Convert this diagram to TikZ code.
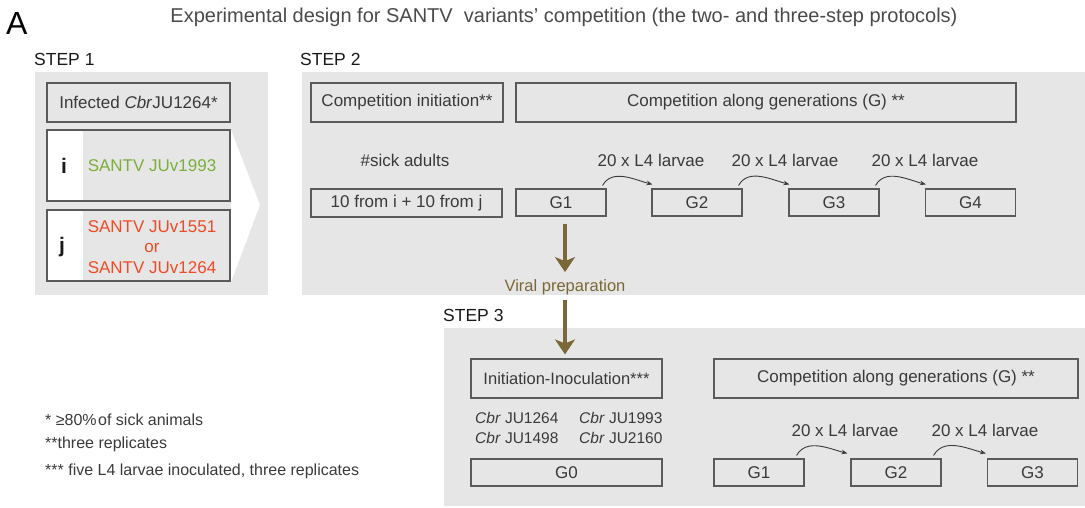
\documentclass[tikz,border=0pt]{standalone}
\usepackage{fontspec}
\setmainfont{Liberation Sans}
\usetikzlibrary{arrows.meta,calc}
\definecolor{panelgray}{HTML}{E6E6E6}
\definecolor{boxline}{HTML}{5A5A5A}
\definecolor{txt}{HTML}{3A3A3A}
\definecolor{titlec}{HTML}{4A4A4A}
\definecolor{vgreen}{HTML}{7AB03A}
\definecolor{vred}{HTML}{F04A24}
\definecolor{olivec}{HTML}{7A6837}
\newcommand{\setfs}[1]{\fontsize{#1pt}{#1pt}\selectfont}
\begin{document}
\begin{tikzpicture}[x=1pt,y=-1pt,
  panel/.style={fill=panelgray,draw=none},
  box/.style={draw=boxline,line width=1.1pt,inner sep=0pt,text=txt,font=\setfs{17}},
  gbox/.style={box,minimum width=90pt,minimum height=27pt},
  lbl/.style={inner sep=0pt,text=txt,font=\setfs{17}},
  steplbl/.style={inner sep=0pt,anchor=west,text=black!90,font=\setfs{17.5}},
  note/.style={inner sep=0pt,anchor=west,text=txt,font=\setfs{16}},
  cbr/.style={inner sep=0pt,anchor=west,text=txt,font=\setfs{15.5}},
  letter/.style={inner sep=0pt,text=black!90,font=\setfs{21}\bfseries},
  larr/.style={-{Stealth[length=6pt,width=4.5pt]},line width=0.9pt,draw=txt},
  olivearr/.style={-{Stealth[length=15pt,width=20pt,inset=4pt]},line width=3.5pt,draw=olivec,fill=olivec}]
\useasboundingbox (0,0) rectangle (1085,508);

% heading
\node[inner sep=0pt,anchor=base west,font=\setfs{32}] (A) at (6,35) {A};
\node[inner sep=0pt,anchor=base,text=titlec,font=\setfs{20}] (title) at (564,23)
  {Experimental design for SANTV\ \ variants' competition (the two- and three-step protocols)};

% panels
\fill[panel] (35,72) rectangle (268,295);
\fill[panel] (302,72) rectangle (1085,295);
\fill[panel] (444,328) rectangle (1085,506);

\node[steplbl] (s1) at (34,59) {STEP 1};
\node[steplbl] (s2) at (300,59) {STEP 2};
\node[steplbl] (s3) at (443,315) {STEP 3};

% STEP 1
\fill[white] (231,130) -- (260,205) -- (231,282) -- cycle;
\fill[white] (47,130) rectangle (83,201);
\fill[white] (47,210) rectangle (83,281);
\node[box,minimum width=183pt,minimum height=39pt] (inf) at (138.5,102.5) {Infected \textit{Cbr}JU1264*};
\node[box,minimum width=183pt,minimum height=71pt] (bi) at (138.5,165.5) {};
\node[box,minimum width=183pt,minimum height=71pt] (bj) at (138.5,245.5) {};
\node[letter] (li) at (64,166) {i};
\node[letter] (lj) at (62,247) {j};
\node[inner sep=0pt,text=vgreen,font=\setfs{17}] (vi) at (152,166) {SANTV JUv1993};
\node[inner sep=0pt,text=vred,align=center,font=\fontsize{17pt}{20.5pt}\selectfont] (vj) at (152,247)
  {SANTV JUv1551\\or\\SANTV JUv1264};

% STEP 2
\node[box,minimum width=192pt,minimum height=39pt] (ci) at (407,102.5) {Competition initiation**};
\node[box,minimum width=500pt,minimum height=39pt] (cg) at (766,102.5) {Competition along generations (G) **};
\node[lbl] (sick) at (405,160) {\#sick adults};
\node[box,minimum width=191pt,minimum height=28pt] (ten) at (406.5,203) {10 from i + 10 from j};
\node[gbox] (g1) at (561,202.5) {G1};
\node[gbox] (g2) at (697,202.5) {G2};
\node[gbox] (g3) at (834,202.5) {G3};
\node[gbox] (g4) at (970.5,202.5) {G4};
\node[lbl] (l1) at (651,160) {20 x L4 larvae};
\node[lbl] (l2) at (785,160) {20 x L4 larvae};
\node[lbl] (l3) at (925,160) {20 x L4 larvae};
\draw[larr] ([xshift=-4pt,yshift=3pt]g1.north east) to[out=60,in=165] ([xshift=1pt,yshift=4pt]g2.north west);
\draw[larr] ([xshift=-4pt,yshift=3pt]g2.north east) to[out=60,in=165] ([xshift=1pt,yshift=4pt]g3.north west);
\draw[larr] ([xshift=-4pt,yshift=3pt]g3.north east) to[out=60,in=165] ([xshift=1pt,yshift=4pt]g4.north west);

% viral preparation
\node[inner sep=0pt,text=olivec,font=\setfs{16.5}] (viral) at (565,287) {Viral preparation};
\draw[olivearr,shorten <=7pt,shorten >=7pt] (g1.south -| viral.north) -- (viral.north);

% STEP 3
\node[box,minimum width=191pt,minimum height=39pt,font=\setfs{16.5}] (init) at (566.5,378.5) {Initiation-Inoculation***};
\draw[olivearr,shorten <=5pt,shorten >=4pt] (viral.south) -- (viral.south |- init.north);
\node[box,minimum width=364pt,minimum height=39pt] (cg3) at (896,378.5) {Competition along generations (G) **};
\node[cbr] (c1) at (475,418) {\textit{Cbr} JU1264};
\node[cbr] (c2) at (579,418) {\textit{Cbr} JU1993};
\node[cbr] (c3) at (475,438) {\textit{Cbr} JU1498};
\node[cbr] (c4) at (579,438) {\textit{Cbr} JU2160};
\node[box,minimum width=191pt,minimum height=27pt] (g0) at (566.5,472.5) {G0};
\node[gbox] (h1) at (759,472.5) {G1};
\node[gbox] (h2) at (896,472.5) {G2};
\node[gbox] (h3) at (1032.5,472.5) {G3};
\node[lbl] (m1) at (845,430) {20 x L4 larvae};
\node[lbl] (m2) at (985,430) {20 x L4 larvae};
\draw[larr] ([xshift=-8pt,yshift=3pt]h1.north east) to[out=60,in=165] ([xshift=-3pt,yshift=5pt]h2.north west);
\draw[larr] ([xshift=-8pt,yshift=3pt]h2.north east) to[out=60,in=165] ([xshift=-1pt,yshift=5pt]h3.north west);

% footnotes
\node[note] (n1) at (45,420) {* ≥80\%\hspace{1.5pt}of sick animals};
\node[note] (n2) at (45,444) {**three replicates};
\node[note] (n3) at (45,471) {*** five L4 larvae inoculated, three replicates};
\end{tikzpicture}
\end{document}
